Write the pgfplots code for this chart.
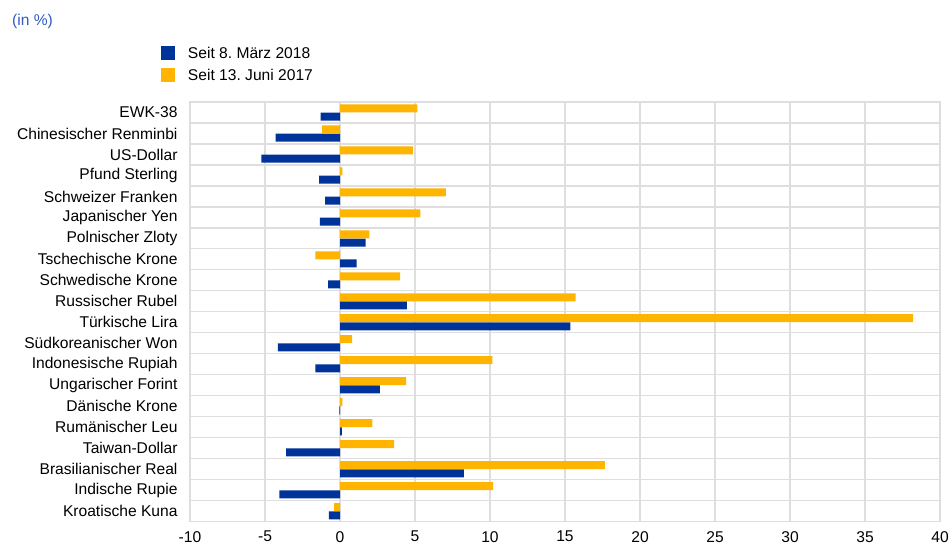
\documentclass[border=0pt]{standalone}
\usepackage{fontspec}
\setmainfont{Liberation Sans}
\usepackage{pgfplots}
\pgfplotsset{compat=1.18}
\frenchspacing
\definecolor{ecbblue}{RGB}{0,51,153}
\definecolor{ecborange}{RGB}{255,180,0}
\definecolor{gridgray}{RGB}{222,222,222}
\definecolor{titleblue}{RGB}{48,90,190}
\newcommand{\chartfont}{\fontsize{15.6bp}{18.7bp}\selectfont}
\begin{document}
\begin{tikzpicture}
\useasboundingbox (0,0) rectangle (951bp,548bp);
\node[anchor=west, inner sep=0pt, text=titleblue, font=\chartfont] at (12bp,527bp) {(in \%)};
\begin{axis}[
  at={(190bp,26.3bp)}, anchor=south west,
  scale only axis, width=750bp, height=419.7bp,
  xmin=-10, xmax=40, ymin=-0.5, ymax=19.5,
  y dir=reverse,
  xbar, bar width=8bp,
  xtick={-10,-5,...,40},
  ytick={0,...,19},
  minor ytick={-0.5,0.5,...,19.5},
  yticklabels={EWK-38,Chinesischer Renminbi,US-Dollar,Pfund Sterling,Schweizer Franken,Japanischer Yen,Polnischer Zloty,Tschechische Krone,Schwedische Krone,Russischer Rubel,Türkische Lira,Südkoreanischer Won,Indonesische Rupiah,Ungarischer Forint,Dänische Krone,Rumänischer Leu,Taiwan-Dollar,Brasilianischer Real,Indische Rupie,Kroatische Kuna},
  xmajorgrids, yminorgrids, ymajorgrids=false,
  grid style={gridgray, line width=1.2bp},
  minor grid style={gridgray, line width=1.2bp},
  axis line style={gridgray, line width=1.2bp},
  major tick length=0pt, minor tick length=0pt,
  tick label style={font=\chartfont, text=black},
  /pgf/number format/assume math mode=true,
  xticklabel style={yshift=-6bp},
  yticklabel style={xshift=-9bp},
  legend style={at={(rel axis cs:-0.03867,1.1334)}, anchor=north west, draw=none, fill=none,
    inner sep=0pt, outer sep=0pt, column sep=13bp, row sep=8.3bp,
    nodes={inner sep=0pt, font=\chartfont, anchor=base west}},
  legend cell align=left,
  legend image code/.code={\fill[#1] (0bp,-1.6bp) rectangle (14bp,12.4bp);},
  clip=false,
]
\addplot[fill=ecbblue, draw=none, bar shift=-4.1bp] coordinates {
(-1.3,0) (-4.3,1) (-5.25,2) (-1.4,3) (-1.0,4) (-1.35,5) (1.7,6) (1.1,7) (-0.8,8) (4.45,9)
(15.35,10) (-4.15,11) (-1.65,12) (2.65,13) (-0.05,14) (0.12,15) (-3.6,16) (8.25,17) (-4.05,18) (-0.75,19)};
\addlegendentry{Seit 8. März 2018}
\addplot[fill=ecborange, draw=none, bar shift=4.1bp] coordinates {
(5.15,0) (-1.2,1) (4.85,2) (0.15,3) (7.05,4) (5.35,5) (1.95,6) (-1.65,7) (4.0,8) (15.7,9)
(38.2,10) (0.8,11) (10.15,12) (4.4,13) (0.15,14) (2.15,15) (3.6,16) (17.65,17) (10.2,18) (-0.4,19)};
\addlegendentry{Seit 13. Juni 2017}
\end{axis}
\end{tikzpicture}
\end{document}
